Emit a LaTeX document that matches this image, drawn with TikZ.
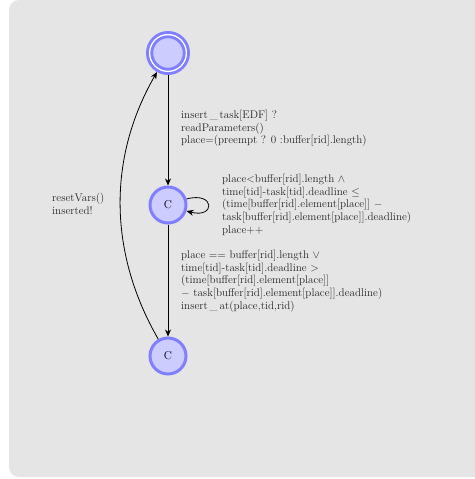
\documentclass[tikz,border=0pt]{standalone}
\usetikzlibrary{arrows.meta}
\begin{document}
\begin{tikzpicture}[x=1bp,y=1bp,
  loc/.style={circle,draw=blue!50,fill=blue!20,line width=3bp,minimum size=36bp,inner sep=0pt,font=\fontsize{11.5}{12}\selectfont},
  initloc/.style={loc,minimum size=41bp},
  edge/.style={-{Stealth[length=7bp,width=6bp]},line width=0.8bp},
  lbl/.style={align=left,anchor=north west,inner sep=0pt,text=black!85,font=\fontsize{11.15}{12.7}\selectfont}]
\useasboundingbox (0,0) rectangle (475,-479);
\fill[black!10,rounded corners=10bp] (9,0) rectangle (490,-477);
\node[initloc] (n0) at (168,-53) {};
\draw[white,line width=1.4bp] (n0.center) circle (18.3bp);
\draw[blue!50,line width=2.8bp] (n0.center) circle (16.2bp);
\node[loc] (n1) at (168,-205) {C};
\node[loc] (n2) at (168,-356) {C};
\draw[edge] (n0) -- (n1);
\draw[edge] (n1) -- (n2);
\draw[edge] (n2) to[out=120,in=-120,looseness=0.95] (n0);
\draw[edge] (n1.18) .. controls +(15:30) and +(-15:30) .. (n1.-18);
\node[lbl] (l1) at (181,-110) {insert\,\_\,task[EDF] ?\\readParameters()\\place=(preempt ? 0 :buffer[rid].length)};
\node[lbl] (l2) at (222,-174) {place$<$buffer[rid].length $\wedge$\\time[tid]-task[tid].deadline $\leq$\\(time[buffer[rid].element[place]] $-$\\task[buffer[rid].element[place]].deadline)\\place++};
\node[lbl] (l3) at (181,-250) {place $==$ buffer[rid].length $\vee$\\time[tid]-task[tid].deadline $>$\\(time[buffer[rid].element[place]]\\$-$ task[buffer[rid].element[place]].deadline)\\insert\,\_\,at(place,tid,rid)};
\node[lbl] (l4) at (52,-193) {resetVars()\\inserted!};
\end{tikzpicture}
\end{document}
